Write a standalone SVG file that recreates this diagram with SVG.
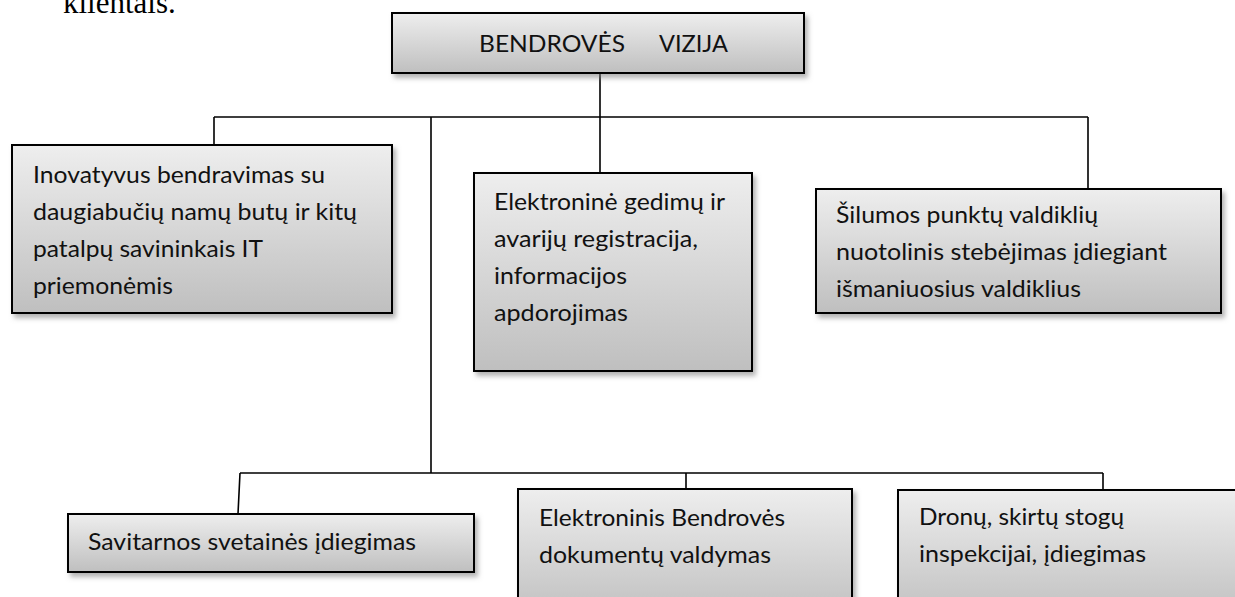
<svg xmlns="http://www.w3.org/2000/svg" width="1235" height="597" viewBox="0 0 1235 597">
<style>
.box{fill:url(#g);stroke:#000;stroke-width:2;filter:url(#sh)}
.t{font-family:Lato,"Open Sans","Liberation Sans",sans-serif;font-size:24px;fill:#111}
.c{fill:none;stroke:#000;stroke-width:1.6}
</style>
<defs>
<linearGradient id="g" x1="0" y1="0" x2="0" y2="1">
<stop offset="0" stop-color="#eeeeee"/>
<stop offset="1" stop-color="#bfbfbf"/>
</linearGradient>
<filter id="sh" x="-10%" y="-10%" width="130%" height="140%">
<feDropShadow dx="3" dy="4" stdDeviation="2.5" flood-color="#808080" flood-opacity="0.6"/>
</filter>
</defs>
<rect width="1235" height="597" fill="#fff"/>
<text x="63" y="13" font-family="'Liberation Serif',serif" font-size="31" fill="#000">klientais.</text>
<g id="connectors">
<path class="c" d="M600 73V117M214 117H1088M214 117V145M431 117V473M600 117V173M1088 117V189"/>
<path class="c" d="M240 473H1103M240 473L238 514M686 473V489M1103 473V490"/>
</g>
<g id="n-top">
<rect class="box" x="392" y="13" width="412" height="60"/>
<text class="t"><tspan x="479" y="52" textLength="146" lengthAdjust="spacingAndGlyphs">BENDROVĖS</tspan><tspan x="659" y="52" textLength="69" lengthAdjust="spacingAndGlyphs">VIZIJA</tspan></text>
</g>
<g id="n-left">
<rect class="box" x="12" y="145" width="380" height="168"/>
<text class="t"><tspan x="33" y="183" textLength="292" lengthAdjust="spacingAndGlyphs">Inovatyvus bendravimas su</tspan><tspan x="33" y="220" textLength="324" lengthAdjust="spacingAndGlyphs">daugiabučių namų butų ir kitų</tspan><tspan x="33" y="257" textLength="230" lengthAdjust="spacingAndGlyphs">patalpų savininkais IT</tspan><tspan x="33" y="294" textLength="140" lengthAdjust="spacingAndGlyphs">priemonėmis</tspan></text>
</g>
<g id="n-mid">
<rect class="box" x="474" y="173" width="278" height="198"/>
<text class="t"><tspan x="494" y="210" textLength="231" lengthAdjust="spacingAndGlyphs">Elektroninė gedimų ir</tspan><tspan x="494" y="247" textLength="204" lengthAdjust="spacingAndGlyphs">avarijų registracija,</tspan><tspan x="494" y="284" textLength="133" lengthAdjust="spacingAndGlyphs">informacijos</tspan><tspan x="494" y="321" textLength="134" lengthAdjust="spacingAndGlyphs">apdorojimas</tspan></text>
</g>
<g id="n-right">
<rect class="box" x="816" y="189" width="405" height="124"/>
<text class="t"><tspan x="836" y="223" textLength="262" lengthAdjust="spacingAndGlyphs">Šilumos punktų valdiklių</tspan><tspan x="836" y="260" textLength="331" lengthAdjust="spacingAndGlyphs">nuotolinis stebėjimas įdiegiant</tspan><tspan x="836" y="297" textLength="245" lengthAdjust="spacingAndGlyphs">išmaniuosius valdiklius</tspan></text>
</g>
<g id="n-bl">
<rect class="box" x="68" y="514" width="406" height="58"/>
<text class="t" x="88" y="550" textLength="328" lengthAdjust="spacingAndGlyphs">Savitarnos svetainės įdiegimas</text>
</g>
<g id="n-bm">
<rect class="box" x="518" y="489" width="334" height="130"/>
<text class="t"><tspan x="539" y="526" textLength="246" lengthAdjust="spacingAndGlyphs">Elektroninis Bendrovės</tspan><tspan x="539" y="563" textLength="232" lengthAdjust="spacingAndGlyphs">dokumentų valdymas</tspan></text>
</g>
<g id="n-br">
<rect class="box" x="898" y="490" width="345" height="130"/>
<text class="t"><tspan x="919" y="525" textLength="205" lengthAdjust="spacingAndGlyphs">Dronų, skirtų stogų</tspan><tspan x="919" y="562" textLength="227" lengthAdjust="spacingAndGlyphs">inspekcijai, įdiegimas</tspan></text>
</g>
</svg>
